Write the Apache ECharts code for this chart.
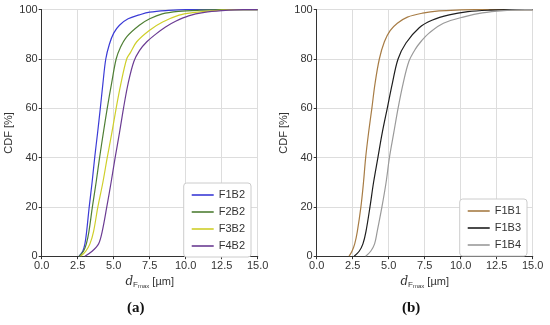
<!DOCTYPE html>
<html><head><meta charset="utf-8">
<script src="https://cdn.jsdelivr.net/npm/echarts@6/dist/echarts.min.js"></script>
<style>html,body{margin:0;padding:0;background:#fff}#c{width:550px;height:325px}</style>
</head><body><div id="c"></div><script>
// ---- data (x = d_Fmax in µm, y = CDF in %) ----
const xTickLabels = ['0.0','2.5','5.0','7.5','10.0','12.5','15.0'];
const yTickLabels = ['0','20','40','60','80','100'];
const namesA = ['F1B2','F2B2','F3B2','F4B2'];
const namesB = ['F1B1','F1B3','F1B4'];
const F1B2 = [[2.6,0],[2.85,2],[3.0,5],[3.12,10],[3.3,20],[3.5,30],[3.68,40],[3.88,50],[4.07,60],[4.25,70],[4.45,80],[4.7,86],[5.0,90.5],[5.4,93.7],[6.0,96.3],[6.78,97.9],[7.5,99],[8.8,99.7],[10,100],[15,100]];
const F2B2 = [[2.6,0],[2.9,2],[3.1,5],[3.28,10],[3.52,20],[3.78,30],[4.02,40],[4.28,50],[4.55,60],[4.85,70],[5.17,80],[5.45,84.5],[5.9,89],[6.78,93.7],[7.5,96.3],[8.37,98.3],[9.5,99.3],[11,99.8],[12.5,100],[15,100]];
const F3B2 = [[2.7,0],[3.05,2],[3.35,5],[3.6,10],[3.9,20],[4.25,30],[4.55,40],[4.87,50],[5.17,60],[5.5,70],[5.9,80],[6.15,82.5],[6.6,87],[7.47,91.6],[8.4,95],[9.54,97.8],[10.5,98.8],[12,99.6],[13.5,100],[15,100]];
const F4B2 = [[3.0,0],[3.5,2],[3.95,5],[4.2,10],[4.52,20],[4.82,30],[5.1,40],[5.4,50],[5.68,60],[6.0,70],[6.4,79],[6.8,83.5],[7.3,87],[7.9,90],[8.6,93],[9.3,95.3],[10.2,97.5],[11.3,98.9],[12.5,99.6],[14,100],[15,100]];
const F1B1 = [[2.25,0],[2.45,2],[2.64,5],[2.82,10],[3.07,20],[3.25,30],[3.4,40],[3.6,50],[3.83,60],[4.05,70],[4.35,80],[4.7,87],[5.1,91.5],[5.6,94.5],[6.3,97],[7.35,98.6],[8.5,99.5],[10,99.9],[11,100],[15,100]];
const F1B3 = [[2.6,0],[2.95,2],[3.21,5],[3.42,10],[3.7,20],[3.95,30],[4.25,40],[4.55,50],[4.9,60],[5.25,70],[5.65,80],[6.2,86.5],[7.12,92.7],[8.0,95.7],[9.2,97.9],[10.5,99.2],[12,99.8],[13.5,100],[15,100]];
const F1B4 = [[3.4,0],[3.75,2],[4.02,5],[4.2,10],[4.53,20],[4.82,30],[5.05,40],[5.35,50],[5.65,60],[6.0,70],[6.4,79],[6.85,84],[7.3,87.5],[7.8,90.5],[8.8,94.5],[10.3,97.2],[11.5,98.7],[13,99.6],[14.5,100],[15,100]];
const colorsA = ['#3b3bd6','#4f7f35','#cfcf2a','#6b3c93'];
const colorsB = ['#a77c45','#1e1e1e','#9a9a9a'];

const FONT = 'Liberation Sans';
const chart = echarts.init(document.getElementById('c'));
const nameRich = {
  i:{fontStyle:'italic',fontSize:12,fontFamily:'DejaVu Serif',color:'#333'},
  s:{fontSize:8,fontFamily:FONT,color:'#333',verticalAlign:'bottom',padding:[6,0,0,0]},
  ss:{fontSize:6,fontFamily:FONT,color:'#333',verticalAlign:'bottom',padding:[8,0,0,0]},
  n:{fontSize:11,fontFamily:FONT,color:'#333'}
};
function xBottom(g){return {type:'value',gridIndex:g,min:0,max:15,interval:2.5,
  axisLine:{show:true,lineStyle:{color:'#333',width:1}},
  axisTick:{show:true,length:3,lineStyle:{color:'#333'}},
  axisLabel:{fontSize:11,fontFamily:FONT,color:'#333',margin:4,formatter:(v)=>xTickLabels[Math.round(v/2.5)]},
  splitLine:{show:true,lineStyle:{color:'#dddddd',width:1}},
  name:'{i|d}{s|F}{ss|max}{n| [µm]}',nameLocation:'middle',nameGap:17,
  nameTextStyle:{rich:nameRich}};}
function xTop(g){return {type:'value',gridIndex:g,min:0,max:15,position:'top',
  axisLine:{show:true,lineStyle:{color:'#333',width:1}},axisTick:{show:false},axisLabel:{show:false},splitLine:{show:false}};}
function yLeft(g){return {type:'value',gridIndex:g,min:0,max:100,interval:20,
  axisLine:{show:true,lineStyle:{color:'#333',width:1}},
  axisTick:{show:true,length:3,lineStyle:{color:'#333'}},
  axisLabel:{fontSize:11,fontFamily:FONT,color:'#333',margin:4,formatter:(v)=>yTickLabels[Math.round(v/20)]},
  splitLine:{show:true,lineStyle:{color:'#dddddd',width:1}},
  name:'CDF [%]',nameLocation:'middle',nameGap:27,nameRotate:90,
  nameTextStyle:{fontSize:11,fontFamily:FONT,color:'#333'}};}
function yRight(g){return {type:'value',gridIndex:g,min:0,max:100,position:'right',
  axisLine:{show:true,lineStyle:{color:'#333',width:1}},axisTick:{show:false},axisLabel:{show:false},splitLine:{show:false}};}
function line(name,data,color,g){return {name,type:'line',data,xAxisIndex:g*2,yAxisIndex:g*2,
  showSymbol:false,symbol:'none',smooth:0.35,
  lineStyle:{color,width:1.2},itemStyle:{color},z:3};}
function legend(names,g,right,top){return {data:names,right,top,orient:'vertical',
  backgroundColor:'#fff',borderColor:'#cccccc',borderWidth:1,borderRadius:3,
  padding:[5,6,4,8],itemGap:3,itemWidth:22,itemHeight:1.6,icon:'rect',
  textStyle:{fontSize:11,fontFamily:FONT,color:'#333',lineHeight:14}};}

const option = {
  animation:false,
  backgroundColor:'#fff',
  grid:[{left:41.7,top:9.7,width:216,height:246.5},{left:316.7,top:9.7,width:216,height:246.5}],
  xAxis:[xBottom(0),xTop(0),xBottom(1),xTop(1)],
  yAxis:[yLeft(0),yRight(0),yLeft(1),yRight(1)],
  legend:[legend(namesA,0,299,183),legend(namesB,1,23,199)],
  series:[
    line(namesA[0],F1B2,colorsA[0],0),line(namesA[1],F2B2,colorsA[1],0),
    line(namesA[2],F3B2,colorsA[2],0),line(namesA[3],F4B2,colorsA[3],0),
    line(namesB[0],F1B1,colorsB[0],1),line(namesB[1],F1B3,colorsB[1],1),
    line(namesB[2],F1B4,colorsB[2],1)
  ],
  graphic:[
    {type:'text',left:127,top:301,style:{text:'(a)',font:'bold 15px "Liberation Serif"',fill:'#111'}},
    {type:'text',left:402,top:301,style:{text:'(b)',font:'bold 15px "Liberation Serif"',fill:'#111'}}
  ]
};
chart.setOption(option);
</script></body></html>
